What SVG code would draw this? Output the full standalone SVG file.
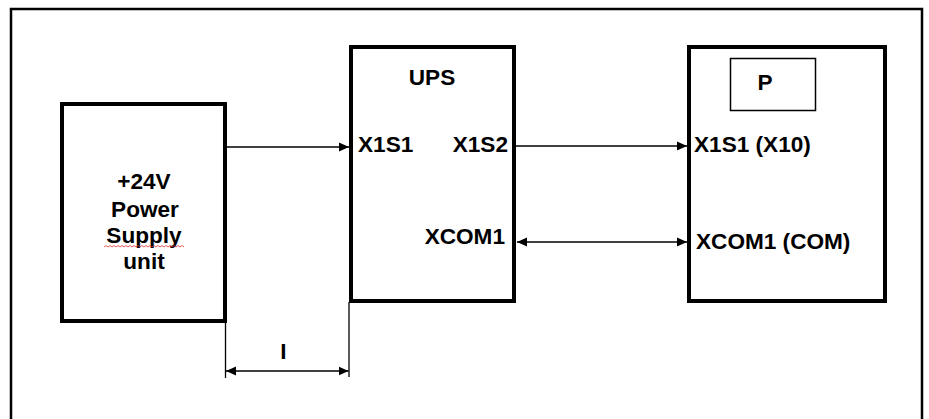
<svg xmlns="http://www.w3.org/2000/svg" width="929" height="419" viewBox="0 0 929 419">
<defs>
<style>
.box{fill:#fff;stroke:#000;stroke-width:4}
.thin{fill:#fff;stroke:#000;stroke-width:1.5}
.wire{fill:none;stroke:#000;stroke-width:1.3}
.t{font-family:"Liberation Sans",Arial,sans-serif;font-weight:bold;font-size:22.6px;fill:#000}
</style>
<marker id="ah" viewBox="0 0 10 10" refX="10" refY="5" markerWidth="10" markerHeight="10" markerUnits="userSpaceOnUse" orient="auto-start-reverse">
<path d="M0,0.5 L10,5 L0,9.5 z" fill="#000"/>
</marker>
</defs>
<rect width="929" height="419" fill="#fff"/>
<path d="M11,430 L11,9 L922,9 L922,430" fill="none" stroke="#000" stroke-width="2.5"/>
<g id="psu">
<rect class="box" x="62" y="104" width="163" height="217"/>
<text class="t" text-anchor="middle" x="144" y="189">+24V</text>
<text class="t" text-anchor="middle" x="145" y="216.5">Power</text>
<text class="t" text-anchor="middle" x="144" y="242.5">Supply</text>
<text class="t" text-anchor="middle" x="144" y="269">unit</text>
<path d="M104,247 l2,-1.5 l2,1.5 l2,-1.5 l2,1.5 l2,-1.5 l2,1.5 l2,-1.5 l2,1.5 l2,-1.5 l2,1.5 l2,-1.5 l2,1.5 l2,-1.5 l2,1.5 l2,-1.5 l2,1.5 l2,-1.5 l2,1.5 l2,-1.5 l2,1.5 l2,-1.5 l2,1.5 l2,-1.5 l2,1.5 l2,-1.5 l2,1.5 l2,-1.5 l2,1.5 l2,-1.5 l2,1.5 l2,-1.5 l2,1.5 l2,-1.5 l2,1.5 l2,-1.5 l2,1.5 l2,-1.5 l2,1.5 l2,-1.5 l2,1.5" fill="none" stroke="#e03030" stroke-width="0.8"/>
</g>
<g id="ups">
<rect class="box" x="351" y="47" width="163" height="254"/>
<text class="t" text-anchor="middle" x="432" y="85">UPS</text>
<text class="t" x="358" y="152">X1S1</text>
<text class="t" text-anchor="end" x="508" y="152">X1S2</text>
<text class="t" text-anchor="end" x="505" y="244">XCOM1</text>
</g>
<g id="p">
<rect class="box" x="689" y="47" width="196" height="254"/>
<rect class="thin" x="730.5" y="58.5" width="85" height="52"/>
<text class="t" text-anchor="middle" x="765" y="90">P</text>
<text class="t" x="694" y="152">X1S1 (X10)</text>
<text class="t" x="696" y="249">XCOM1 (COM)</text>
</g>
<g id="connectors">
<line class="wire" x1="225" y1="147" x2="349" y2="147" marker-end="url(#ah)"/>
<line class="wire" x1="516" y1="146" x2="687" y2="146" marker-end="url(#ah)"/>
<line class="wire" x1="517" y1="242" x2="687" y2="242" marker-start="url(#ah)" marker-end="url(#ah)"/>
<line class="wire" x1="225.5" y1="322" x2="225.5" y2="378"/>
<line class="wire" x1="349" y1="302" x2="349" y2="377"/>
<line class="wire" x1="226" y1="371" x2="348.5" y2="371" marker-start="url(#ah)" marker-end="url(#ah)"/>
<text class="t" text-anchor="middle" x="283.5" y="358.5">I</text>
</g>
</svg>
